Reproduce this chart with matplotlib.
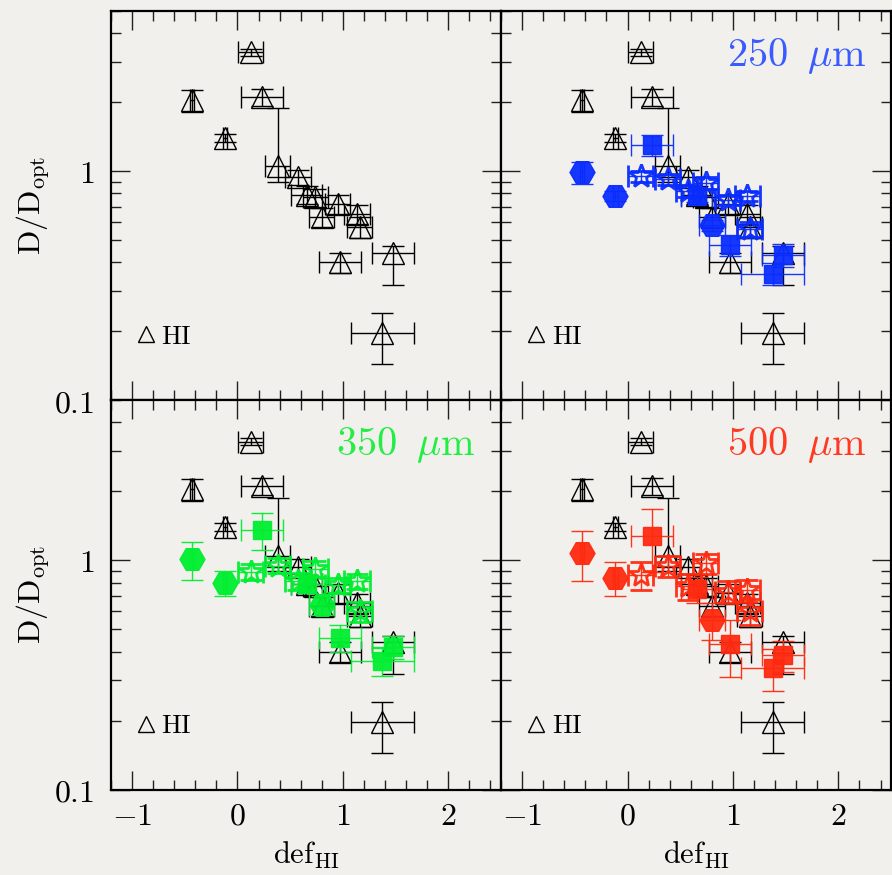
import numpy as np
import matplotlib.pyplot as plt
from matplotlib.lines import Line2D
from matplotlib.ticker import MultipleLocator, LogLocator, NullFormatter, FixedFormatter, FixedLocator

plt.rcParams['mathtext.fontset'] = 'cm'
plt.rcParams['font.family'] = 'serif'
plt.rcParams['font.serif'] = ['DejaVu Serif']

# HI deficiency of each galaxy and its error
def_hi = [-0.43, -0.115, 0.125, 0.23, 0.38, 0.575, 0.655, 0.74, 0.80, 0.95, 0.97, 1.135, 1.16, 1.375, 1.475]
def_err = [0.02, 0.02, 0.12, 0.20, 0.12, 0.12, 0.15, 0.12, 0.12, 0.12, 0.20, 0.12, 0.12, 0.30, 0.20]
# galaxy class, sets the marker used for the dust points
kind = ['hex', 'hex', 'star', 'sq', 'star', 'star', 'sq', 'star', 'hex', 'star', 'sq', 'star', 'star', 'sq', 'sq']

# HI disc size relative to the optical one (asymmetric errors)
d_hi = [2.05, 1.40, 3.30, 2.11, 1.05, 0.94, 0.79, 0.77, 0.63, 0.72, 0.40, 0.65, 0.57, 0.197, 0.44]
d_hi_lo = [0.24, 0.06, 0.12, 0.18, 0.155, 0.07, 0.07, 0.07, 0.06, 0.07, 0.04, 0.06, 0.06, 0.053, 0.12]
d_hi_up = [0.22, 0.06, 0.12, 0.18, 0.83, 0.07, 0.07, 0.07, 0.06, 0.07, 0.04, 0.06, 0.06, 0.043, 0.03]

# dust disc sizes in the three SPIRE bands
d_250 = [0.99, 0.78, 0.95, 1.30, 0.92, 0.82, 0.78, 0.89, 0.58, 0.75, 0.478, 0.78, 0.557, 0.357, 0.43]
d_250_err = [0.11, 0.04, 0.05, 0.14, 0.05, 0.05, 0.05, 0.05, 0.03, 0.04, 0.05, 0.04, 0.04, 0.04, 0.05]
d_350 = [1.01, 0.80, 0.89, 1.36, 0.95, 0.81, 0.79, 0.92, 0.64, 0.78, 0.46, 0.81, 0.60, 0.363, 0.42]
d_350_err = [0.19, 0.10, 0.07, 0.25, 0.07, 0.07, 0.07, 0.07, 0.06, 0.06, 0.06, 0.06, 0.06, 0.05, 0.05]
d_500 = [1.08, 0.84, 0.86, 1.28, 0.95, 0.77, 0.75, 0.97, 0.55, 0.73, 0.43, 0.74, 0.60, 0.34, 0.385]
d_500_err = [0.27, 0.14, 0.12, 0.39, 0.10, 0.10, 0.10, 0.10, 0.10, 0.08, 0.12, 0.08, 0.08, 0.07, 0.06]

bands = [
    (r'$250\;\;\mu\mathrm{m}$', d_250, d_250_err, '#0a2dff', '#3a5cff'),
    (r'$350\;\;\mu\mathrm{m}$', d_350, d_350_err, '#00ee30', '#22ee44'),
    (r'$500\;\;\mu\mathrm{m}$', d_500, d_500_err, '#ff2a10', '#ff3a22'),
]

styles = {'hex': ('H', 18, True), 'sq': ('s', 13, True), 'star': ('*', 18, False)}

bg = '#f2f0ec'
x = np.array(def_hi)
xe = np.array(def_err)
kind = np.array(kind)

fig, axes = plt.subplots(2, 2, figsize=(8.92, 8.75), dpi=100, sharex=True, sharey=True,
                         facecolor=bg)
fig.subplots_adjust(left=0.1244, right=0.999, top=0.9874, bottom=0.0977, wspace=0, hspace=0)


def draw_hi(ax):
    ax.errorbar(def_hi, d_hi, xerr=def_err, yerr=[d_hi_lo, d_hi_up], fmt='^', ms=16,
                mfc='none', mec='k', mew=1.0, ecolor='k', elinewidth=1.0, capsize=8,
                capthick=1.0, zorder=2)
    h = Line2D([], [], marker='^', ls='none', ms=11, mfc='none', mec='k', mew=1.0)
    ax.legend([h], [r'$\mathrm{HI}$'], loc='center left', bbox_to_anchor=(0.055, 0.165),
              frameon=False, fontsize=19, handlelength=1.0, handletextpad=0.1,
              borderpad=0, borderaxespad=0)


def draw_band(ax, label, vals, errs, col, tcol):
    vals = np.array(vals)
    errs = np.array(errs)
    for k, (m, ms, filled) in styles.items():
        sel = kind == k
        ax.errorbar(x[sel], vals[sel], xerr=xe[sel], yerr=errs[sel], fmt=m, ms=ms,
                    mfc=col if filled else 'none', mec=col, mew=1.0 if filled else 2.0,
                    ecolor=col, elinewidth=1.0, capsize=8, capthick=1.0, alpha=0.95,
                    zorder=3)
    ax.text(0.935, 0.86, label, transform=ax.transAxes, ha='right', va='baseline',
            fontsize=29, color=tcol)


for ax in axes.flat:
    draw_hi(ax)

draw_band(axes[0, 1], *bands[0])
draw_band(axes[1, 0], *bands[1])
draw_band(axes[1, 1], *bands[2])

for ax in axes.flat:
    ax.set_facecolor(bg)
    ax.set_yscale('log')
    ax.set_xlim(-1.2, 2.5)
    ax.set_ylim(0.1, 5)
    ax.xaxis.set_major_locator(FixedLocator([-1, 0, 1, 2]))
    ax.xaxis.set_major_formatter(FixedFormatter([r'$-1$', r'$0$', r'$1$', r'$2$']))
    ax.xaxis.set_minor_locator(MultipleLocator(0.2))
    ax.yaxis.set_major_locator(FixedLocator([0.1, 1]))
    ax.yaxis.set_major_formatter(FixedFormatter([r'$0.1$', r'$1$']))
    ax.yaxis.set_minor_locator(LogLocator(base=10, subs=np.arange(2, 10)))
    ax.yaxis.set_minor_formatter(NullFormatter())
    ax.tick_params(which='both', direction='in', top=True, right=True, width=1.0,
                   labelsize=23, color='#222222')
    ax.tick_params(which='major', length=13.5)
    ax.tick_params(which='minor', length=7)
    ax.tick_params(axis='x', pad=8)
    ax.tick_params(axis='y', pad=12)
    for s in ax.spines.values():
        s.set_linewidth(1.6)
    ax.label_outer()

for ax in axes[:, 0]:
    ax.set_ylabel(r'$\mathrm{D/D_{opt}}$', fontsize=23)
    ax.yaxis.set_label_coords(-0.15, 0.5)
for ax in axes[1, :]:
    ax.set_xlabel(r'$\mathrm{def}_{\mathrm{HI}}$', fontsize=22)
    ax.xaxis.set_label_coords(0.5, -0.13)

fig.savefig('out.png', dpi=100, facecolor=bg)
